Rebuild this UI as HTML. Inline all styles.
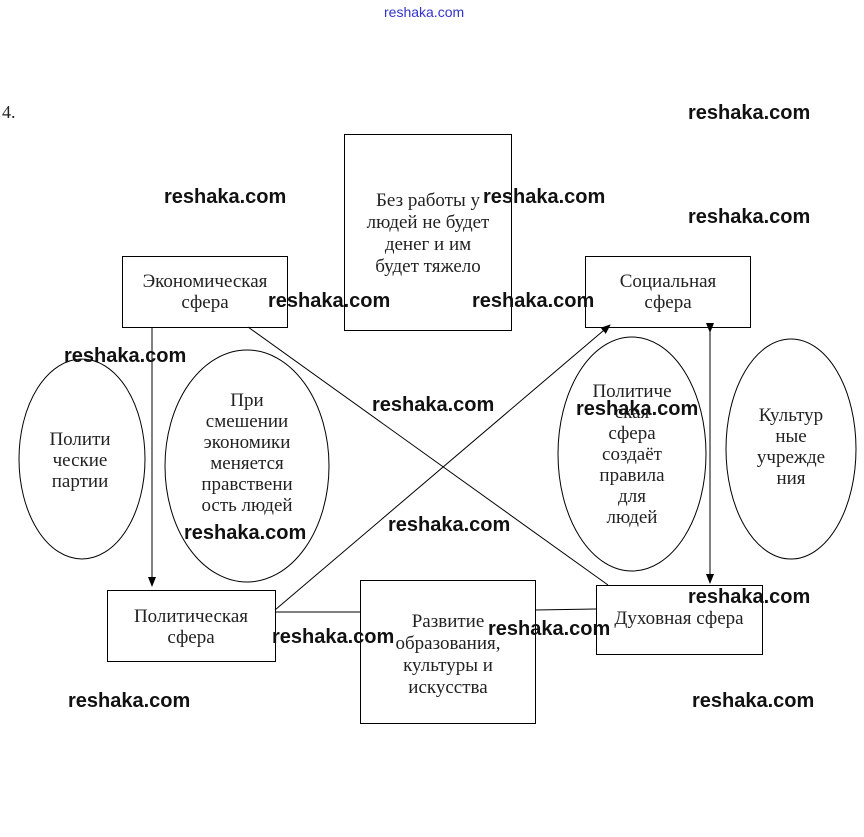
<!DOCTYPE html>
<html><head><meta charset="utf-8"><style>
html,body{margin:0;padding:0;background:#fff;}
svg{display:block;}
.t{font-family:"Liberation Serif","Noto Serif CJK SC",serif;font-size:19px;fill:#222;text-anchor:middle;}
.w{font-family:"Liberation Sans","DejaVu Sans",sans-serif;font-size:20px;font-weight:bold;fill:#111;}
</style></head><body>
<svg width="864" height="837" viewBox="0 0 864 837" xmlns="http://www.w3.org/2000/svg">
<defs><marker id="a" markerWidth="10" markerHeight="10" refX="9" refY="5" orient="auto" markerUnits="userSpaceOnUse"><path d="M0,1 L10,5 L0,9 z" fill="#000"/></marker></defs>
<text x="384" y="17" font-family="Liberation Sans,sans-serif" font-size="14" fill="#3333cc">reshaka.com</text>
<text x="2" y="118" font-family="Liberation Serif,serif" font-size="18" fill="#222">4.</text>
<g fill="none" stroke="#000" stroke-width="1">
<rect x="344.5" y="134.5" width="167" height="196"/>
<rect x="122.5" y="256.5" width="165" height="71"/>
<rect x="585.5" y="256.5" width="165" height="71"/>
<rect x="107.5" y="590.5" width="168" height="71"/>
<rect x="360.5" y="580.5" width="175" height="143"/>
<rect x="596.5" y="585.5" width="166" height="69"/>
<ellipse cx="82" cy="459" rx="63" ry="100"/>
<ellipse cx="247" cy="466" rx="82" ry="116"/>
<ellipse cx="632" cy="454" rx="74" ry="117"/>
<ellipse cx="791" cy="449" rx="65" ry="110"/>
<line x1="152" y1="327" x2="152" y2="586" marker-end="url(#a)"/>
<line x1="248" y1="327" x2="608" y2="585"/>
<line x1="275" y1="610" x2="610" y2="325" marker-end="url(#a)"/>
<line x1="275" y1="612" x2="360" y2="612"/>
<line x1="535" y1="610" x2="596" y2="609"/>
<line x1="710" y1="332" x2="710" y2="583" marker-end="url(#a)" marker-start="url(#a)"/>
</g>
<text class="t" x="428" y="206">Без работы у</text>
<text class="t" x="428" y="228">людей не будет</text>
<text class="t" x="428" y="250">денег и им</text>
<text class="t" x="428" y="272">будет тяжело</text>
<text class="t" x="205" y="287">Экономическая</text>
<text class="t" x="205" y="308">сфера</text>
<text class="t" x="668" y="287">Социальная</text>
<text class="t" x="668" y="308">сфера</text>
<text class="t" x="191" y="622">Политическая</text>
<text class="t" x="191" y="643">сфера</text>
<text class="t" x="448" y="627">Развитие</text>
<text class="t" x="448" y="649">образования,</text>
<text class="t" x="448" y="671">культуры и</text>
<text class="t" x="448" y="693">искусства</text>
<text class="t" x="679" y="624">Духовная сфера</text>
<text class="t" x="80" y="445">Полити</text>
<text class="t" x="80" y="466">ческие</text>
<text class="t" x="80" y="487">партии</text>
<text class="t" x="247" y="406">При</text>
<text class="t" x="247" y="427">смешении</text>
<text class="t" x="247" y="448">экономики</text>
<text class="t" x="247" y="469">меняется</text>
<text class="t" x="247" y="490">правствени</text>
<text class="t" x="247" y="511">ость людей</text>
<text class="t" x="632" y="397">Политиче</text>
<text class="t" x="632" y="418">ская</text>
<text class="t" x="632" y="439">сфера</text>
<text class="t" x="632" y="460">создаёт</text>
<text class="t" x="632" y="481">правила</text>
<text class="t" x="632" y="502">для</text>
<text class="t" x="632" y="523">людей</text>
<text class="t" x="791" y="421">Культур</text>
<text class="t" x="791" y="442">ные</text>
<text class="t" x="791" y="463">учрежде</text>
<text class="t" x="791" y="484">ния</text>
<g class="w">
<text class="w" x="164" y="203">reshaka.com</text>
<text class="w" x="483" y="203">reshaka.com</text>
<text class="w" x="688" y="119">reshaka.com</text>
<text class="w" x="688" y="223">reshaka.com</text>
<text class="w" x="268" y="307">reshaka.com</text>
<text class="w" x="472" y="307">reshaka.com</text>
<text class="w" x="64" y="362">reshaka.com</text>
<text class="w" x="372" y="411">reshaka.com</text>
<text class="w" x="576" y="415">reshaka.com</text>
<text class="w" x="184" y="539">reshaka.com</text>
<text class="w" x="388" y="531">reshaka.com</text>
<text class="w" x="272" y="643">reshaka.com</text>
<text class="w" x="488" y="635">reshaka.com</text>
<text class="w" x="688" y="603">reshaka.com</text>
<text class="w" x="68" y="707">reshaka.com</text>
<text class="w" x="692" y="707">reshaka.com</text>
</g>
</svg>
</body></html>
